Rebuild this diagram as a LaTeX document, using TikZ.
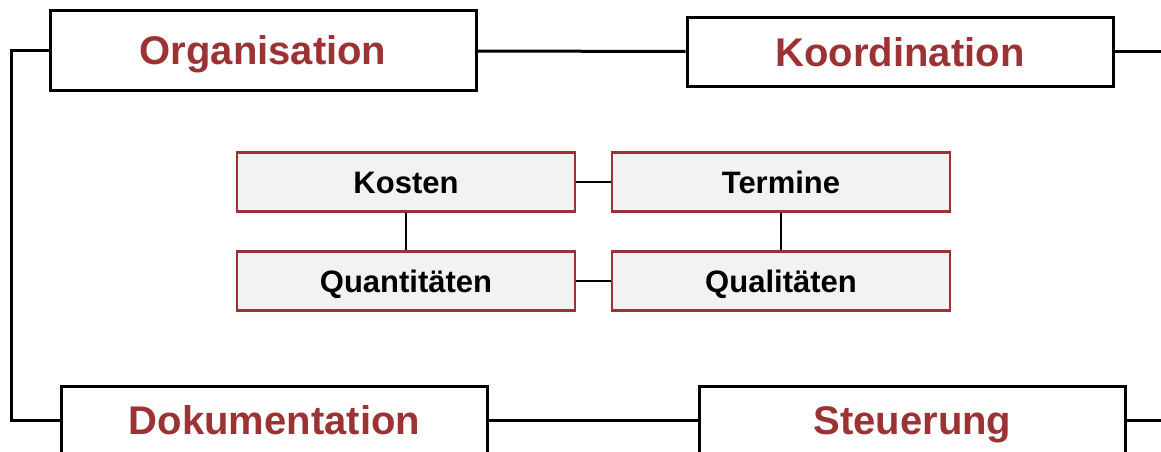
\documentclass[tikz,border=0pt]{standalone}
\usepackage{fontspec}
\setmainfont{Liberation Sans}
\usepackage{xcolor}
\definecolor{darkred}{RGB}{155,50,52}
\definecolor{boxgray}{RGB}{242,242,242}

\begin{document}
\begin{tikzpicture}[x=1pt,y=-1pt,
  outerbox/.style={rectangle,draw,line width=3pt,minimum width=426pt,inner sep=0pt,
    text=darkred,text height=29pt,text depth=0pt,font=\fontsize{40}{44}\selectfont\bfseries},
  innerbox/.style={rectangle,draw=darkred,fill=boxgray,line width=2.2pt,minimum width=338pt,
    minimum height=59pt,inner sep=0pt,text height=22pt,text depth=0pt,
    font=\fontsize{31}{36}\selectfont\bfseries},
  link/.style={line width=3pt},
  smalllink/.style={line width=2.2pt}]

\useasboundingbox (0,0) rectangle (1161,452);
\clip (0,0) rectangle (1161,452);

% outer ring
\node[outerbox, minimum height=79pt] (Org) at (263,50.5) {Organisation};
\node[outerbox, minimum height=68pt] (Koo) at (900,52) {Koordination};
\node[outerbox, minimum height=68pt] (Dok) at (274.5,420) {Dokumentation};
\node[outerbox, minimum height=68pt] (Ste) at (912.5,420) {Steuerung};

% inner boxes
\node[innerbox] (Kos) at (406,182) {Kosten};
\node[innerbox] (Ter) at (781,182) {Termine};
\node[innerbox] (Qua) at (406,281) {Quantitäten};
\node[innerbox] (Qal) at (781,281) {Qualitäten};

\coordinate (left) at (11.5,0);
\coordinate (KooR) at (1170,52);
\coordinate (SteR) at (1170,420);

\path[link] (Org) edge (Koo);
\path[link] (Dok) edge (Ste);
\draw[link] (Org.west) -- (Org.west -| left) |- (Dok.west);
\draw[link] (Koo.east) -- (KooR);
\draw[link] (Ste.east) -- (SteR);

\draw[smalllink] (Kos) -- (Ter);
\draw[smalllink] (Qua) -- (Qal);
\draw[smalllink] (Kos) -- (Qua);
\draw[smalllink] (Ter) -- (Qal);

\end{tikzpicture}
\end{document}
